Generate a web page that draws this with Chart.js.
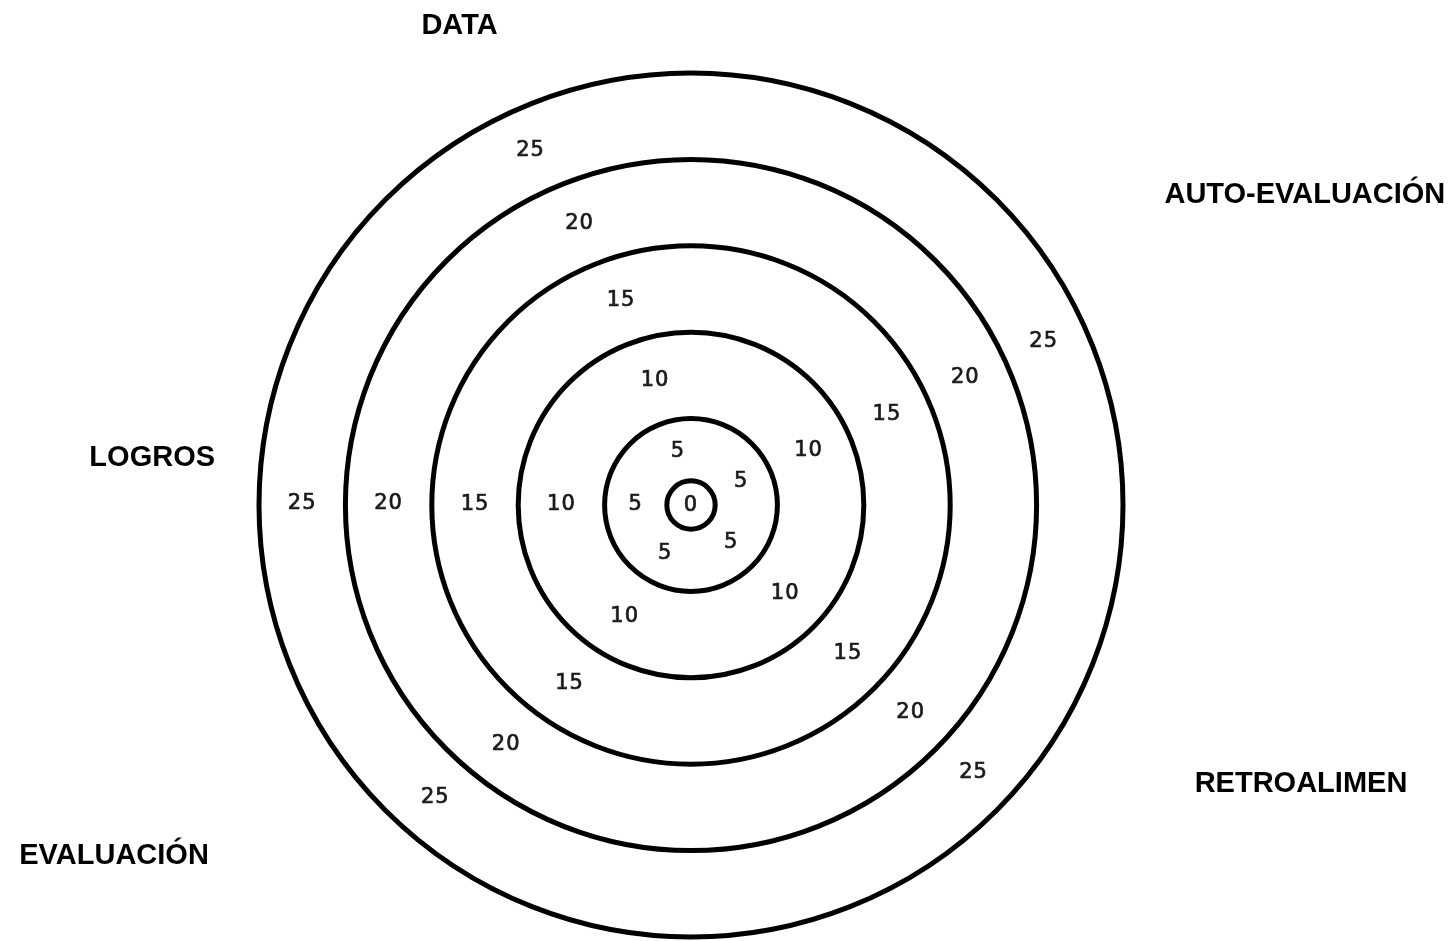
<!DOCTYPE html>
<html lang="es">
<head>
<meta charset="utf-8">
<title>Diana de evaluación</title>
<script src="https://cdn.jsdelivr.net/npm/chart.js@4.4.1/dist/chart.umd.min.js"></script>
<style>
  html, body { margin: 0; padding: 0; background: #fff; }
  #wrap { position: relative; width: 1455px; height: 941px; }
</style>
</head>
<body>
<div id="wrap"><canvas id="target"></canvas></div>
<script>
// ── Data ─────────────────────────────────────────────────────────
const CATEGORIES = ["DATA", "AUTO-EVALUACIÓN", "RETROALIMEN", "EVALUACIÓN", "LOGROS"];
const RING_VALUES = [0, 5, 10, 15, 20, 25];
const SCORES = [null, null, null, null, null]; // the target is empty

// ── Layout ───────────────────────────────────────────────────────
const BULLSEYE = 1.4; // small circle round the "0", in scale units
// each category's row of numbers: angle (deg, clockwise from top) and drift per unit
const SPOKES = [
  { angle: -12.0, twist: -0.55 },
  { angle: 65.1, twist: 0 },
  { angle: 133.4, twist: 0 },
  { angle: 205.6, twist: 0.69 },
  { angle: 270.2, twist: 0 },
];
// category titles: angle and distance as a multiple of the outer radius
const TITLE_POS = [
  { angle: -25.8, dist: 1.231 },
  { angle: 63.2, dist: 1.592 },
  { angle: 114.6, dist: 1.553 },
  { angle: 238.7, dist: 1.563 },
  { angle: 275.0, dist: 1.252 },
];

// ── Ring numbers + category titles ───────────────────────────────
const targetLabels = {
  id: "targetLabels",
  afterDraw(chart) {
    const r = chart.scales.r;
    const ctx = chart.ctx;
    const polar = (deg, dist) => {
      const a = deg * Math.PI / 180;
      return { x: r.xCenter + Math.sin(a) * dist, y: r.yCenter - Math.cos(a) * dist };
    };
    const number = (txt, x, y) => {
      ctx.fillText(txt, x, y);
      ctx.strokeText(txt, x, y); // a touch heavier than the book weight
    };
    ctx.save();
    ctx.textAlign = "center";
    ctx.textBaseline = "middle";

    ctx.font = '21px "DejaVu Sans", sans-serif';
    ctx.letterSpacing = "1px";
    ctx.fillStyle = "#1a1a1a";
    ctx.strokeStyle = "#1a1a1a";
    ctx.lineWidth = 0.7;
    const bounds = [BULLSEYE, ...RING_VALUES.slice(1)];
    RING_VALUES.forEach((v, i) => {
      if (i === 0) {
        number(String(v), r.xCenter, r.yCenter + 1);
        return;
      }
      const mid = (bounds[i - 1] + bounds[i]) / 2;
      const d = r.getDistanceFromCenterForValue(mid);
      SPOKES.forEach(s => {
        const p = polar(s.angle + s.twist * mid, d);
        number(String(v), p.x, p.y);
      });
    });

    ctx.letterSpacing = "0px";
    ctx.font = 'bold 29px "Liberation Sans", Arial, sans-serif';
    ctx.fillStyle = "#000";
    CATEGORIES.forEach((c, i) => {
      const t = TITLE_POS[i];
      const p = polar(t.angle, t.dist * r.drawingArea);
      ctx.fillText(c, p.x, p.y);
    });
    ctx.restore();
  }
};

// ── Chart ────────────────────────────────────────────────────────
new Chart(document.getElementById("target"), {
  type: "radar",
  data: {
    labels: CATEGORIES,
    datasets: [{ data: SCORES, pointRadius: 0, borderWidth: 0 }],
  },
  options: {
    responsive: true,
    maintainAspectRatio: false,
    animation: false,
    layout: { padding: { left: 0, right: 73, top: 73, bottom: 4 } },
    plugins: { legend: { display: false }, tooltip: { enabled: false } },
    scales: {
      r: {
        min: 0,
        max: 25,
        afterBuildTicks: scale => {
          scale.ticks = [0, BULLSEYE, ...RING_VALUES.slice(1)].map(v => ({ value: v }));
        },
        grid: { circular: true, color: "#000", lineWidth: 5 },
        angleLines: { display: false },
        ticks: { display: false },
        pointLabels: { display: false },
      },
    },
  },
  plugins: [targetLabels],
});
</script>
</body>
</html>
